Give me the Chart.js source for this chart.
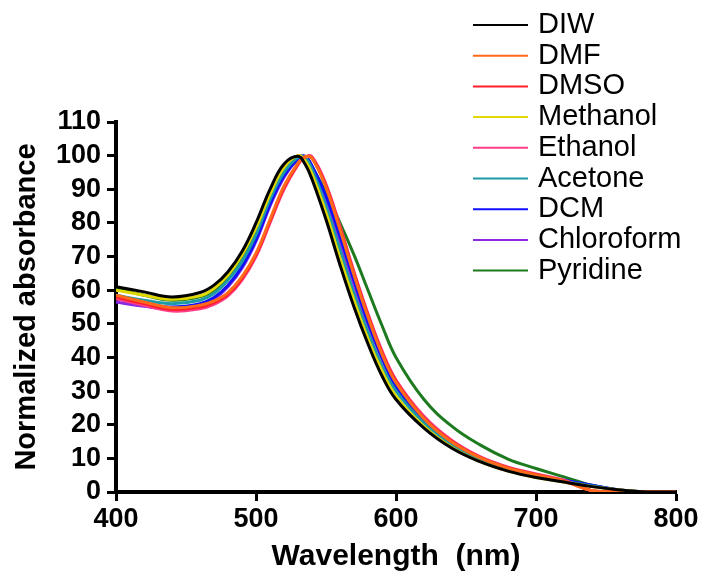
<!DOCTYPE html>
<html>
<head>
<meta charset="utf-8">
<script src="https://cdn.jsdelivr.net/npm/chart.js@4.4.1/dist/chart.umd.min.js"></script>
<style>
  html, body { margin: 0; padding: 0; background: #fff; }
  #wrap { width: 701px; height: 583px; }
</style>
</head>
<body>
<div id="wrap"><canvas id="absChart" width="701" height="583"></canvas></div>
<script>
// wavelength grid (nm) shared by all series
const wavelengths = [400, 420, 440, 460, 470, 480, 490, 500, 510, 520, 530, 535, 540, 550, 560, 570, 580, 590, 600, 620, 640, 660, 680, 700, 720, 740, 760, 780, 800];

// normalized absorbance
const diw        = [61, 59.5, 58, 59.3, 61.5, 65.5, 71.5, 80, 90, 97.5, 99.8, 97.5, 93, 81, 67.5, 55, 44, 34.5, 27.5, 19, 13, 9, 6.2, 4.3, 3, 1.6, 0.6, 0, 0];
const dmf        = [58.5, 56.5, 54.8, 55.5, 56.8, 59.3, 64, 71, 81, 91, 97.8, 99.6, 99.2, 90.5, 78, 64.5, 52, 41, 32.5, 21.8, 14.8, 10.2, 7.1, 5.1, 3.2, 0.4, 0, 0, 0];
const dmso       = [58, 56, 54.3, 55, 56.3, 58.8, 63.5, 70.5, 80.5, 90.5, 97.5, 99.6, 99.3, 91, 78.5, 65, 52.5, 41.5, 33, 22, 15, 10.3, 7.2, 5.2, 3.3, 0.4, 0, 0, 0];
const methanol   = [60, 58.5, 57.3, 58.3, 60.5, 64.5, 70.5, 78.5, 88.5, 96.5, 100, 98.5, 94.5, 83, 69.5, 57, 45.5, 36, 28.5, 19.5, 13.2, 9, 6.2, 4.3, 3, 1.6, 0.6, 0, 0];
const ethanol    = [57.5, 55.5, 53.8, 54.5, 55.8, 58.3, 63, 70, 80, 90, 97.3, 99.6, 99.7, 91.5, 79, 65.5, 53, 42, 33.3, 22.5, 15.3, 10.5, 7.4, 5.4, 3.5, 0.4, 0, 0, 0];
const acetone    = [58.5, 57, 56, 57, 59, 63, 68.5, 76.5, 87, 95, 99.5, 99.5, 96, 85, 72, 59, 47.5, 37.5, 30, 20.5, 14, 9.5, 6.5, 4.5, 3.2, 1.8, 0.6, 0, 0];
const dcm        = [57.5, 56, 55, 56, 57.8, 61.5, 67, 75, 85.5, 94, 99, 99.8, 97, 88, 76, 63, 50.5, 40, 31.5, 21, 14.5, 10, 7, 5, 3.5, 2, 0.6, 0, 0];
const chloroform = [56.5, 55.2, 54.5, 55.5, 57.3, 61, 66.5, 74.5, 85, 93.5, 99, 99.8, 96.5, 86.5, 74, 61.5, 49.5, 39.5, 31, 20.8, 14.3, 9.8, 6.8, 4.8, 3.4, 1.9, 0.6, 0, 0];
const pyridine   = [60.5, 58.5, 57, 58, 60, 64, 70, 78, 88, 96, 100, 99, 96.5, 89, 80, 70.5, 60, 49.5, 40, 27.5, 19.5, 14, 9.8, 7, 4.5, 2, 0.5, 0, 0];

const seriesNames  = ['DIW', 'DMF', 'DMSO', 'Methanol', 'Ethanol', 'Acetone', 'DCM', 'Chloroform', 'Pyridine'];
const seriesValues = [diw, dmf, dmso, methanol, ethanol, acetone, dcm, chloroform, pyridine];
const seriesColors = ['#000000', '#ff6a1a', '#ff1f2a', '#e0d800', '#ff3d8a', '#1c9aa6', '#1010ff', '#8a2be2', '#1e7a1e'];

const xTicks = [400, 500, 600, 700, 800];
const yTicks = [0, 10, 20, 30, 40, 50, 60, 70, 80, 90, 100, 110];

const FONT = "'Liberation Sans', Arial, sans-serif";

// legend drawn by hand so it can sit over the top-right corner
const sideLegend = {
    id: 'sideLegend',
    afterDraw(chart) {
        const ctx = chart.ctx;
        ctx.save();
        ctx.font = '29px ' + FONT;
        ctx.textBaseline = 'middle';
        ctx.textAlign = 'left';
        chart.data.datasets.forEach((ds, i) => {
            const y = 25 + i * 30.7;
            ctx.strokeStyle = ds.borderColor;
            ctx.lineWidth = 2;
            ctx.beginPath();
            ctx.moveTo(473, y);
            ctx.lineTo(528, y);
            ctx.stroke();
            ctx.fillStyle = '#000';
            ctx.fillText(ds.label, 538, y);
        });
        ctx.restore();
    }
};

const datasets = seriesNames.map((name, i) => ({
    label: name,
    data: wavelengths.map((w, j) => ({ x: w, y: seriesValues[i][j] })),
    borderColor: seriesColors[i],
    backgroundColor: seriesColors[i],
    borderWidth: 3,
    pointRadius: 0,
    tension: 0.4,
    fill: false
}));

const ctx = document.getElementById('absChart').getContext('2d');
new Chart(ctx, {
    type: 'line',
    data: { datasets },
    options: {
        responsive: false,
        animation: false,
        layout: { padding: { left: 0, top: 122, right: 25, bottom: 0 } },
        plugins: {
            legend: { display: false },
            tooltip: { enabled: false }
        },
        scales: {
            x: {
                type: 'linear',
                min: 400,
                max: 800,
                afterFit(scale) { scale.height = 91; },
                afterBuildTicks(scale) { scale.ticks = xTicks.map(v => ({ value: v })); },
                ticks: {
                    color: '#000',
                    padding: 2,
                    maxRotation: 0,
                    autoSkip: false,
                    font: { family: FONT, size: 27, weight: 'bold' }
                },
                grid: {
                    drawOnChartArea: false,
                    drawTicks: true,
                    tickLength: 9,
                    tickWidth: 3,
                    tickColor: '#000'
                },
                border: { display: true, color: '#000', width: 4 },
                title: {
                    display: true,
                    text: 'Wavelength  (nm)',
                    color: '#000',
                    padding: { top: 0, bottom: 8 },
                    font: { family: FONT, size: 30, weight: 'bold' }
                }
            },
            y: {
                min: 0,
                max: 110,
                afterFit(scale) { scale.width = 116; },
                afterBuildTicks(scale) { scale.ticks = yTicks.map(v => ({ value: v })); },
                ticks: {
                    color: '#000',
                    padding: 6,
                    autoSkip: false,
                    font: { family: FONT, size: 27, weight: 'bold' }
                },
                grid: {
                    drawOnChartArea: false,
                    drawTicks: true,
                    tickLength: 9,
                    tickWidth: 3,
                    tickColor: '#000'
                },
                border: { display: true, color: '#000', width: 4 },
                title: {
                    display: true,
                    text: 'Normalized absorbance',
                    color: '#000',
                    padding: { top: 10, bottom: 0 },
                    font: { family: FONT, size: 29, weight: 'bold' }
                }
            }
        }
    },
    plugins: [sideLegend]
});
</script>
</body>
</html>
